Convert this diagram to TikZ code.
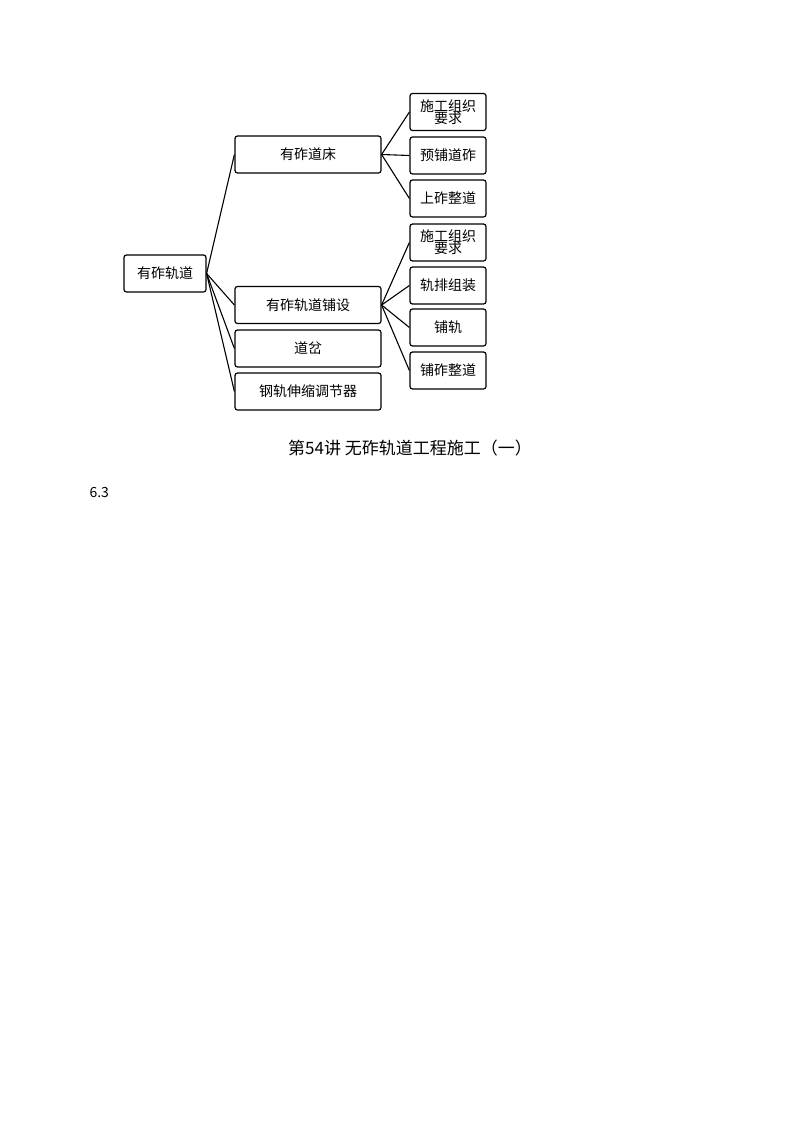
\documentclass[tikz,border=0pt]{standalone}
\usepackage{fontspec}
\setmainfont{Noto Sans CJK SC}
\newfontfamily\capfont{Noto Sans CJK SC}
\begin{document}
\begin{tikzpicture}[x=1pt,y=-1pt,
  box/.style={draw,line width=1.2pt,rounded corners=2.5pt,minimum height=37pt,inner sep=0pt,font=\fontsize{14}{15}\selectfont,align=center},
  lone/.style={box,minimum width=146pt},
  ltwo/.style={box,minimum width=76pt},
  conn/.style={line width=1.1pt}]
\useasboundingbox (0,0) rectangle (800,1132);
\node[box,minimum width=82pt] (r) at (165,273.5) {有砟轨道};
\node[lone] (a) at (308,154.5) {有砟道床};
\node[lone] (b) at (308,305) {有砟轨道铺设};
\node[lone] (c) at (308,348.5) {道岔};
\node[lone] (d) at (308,391.5) {钢轨伸缩调节器};
\node[ltwo] (a1) at (448,112) {施工组织\\[-3pt]要求};
\node[ltwo] (a2) at (448,155.5) {预铺道砟};
\node[ltwo] (a3) at (448,198.5) {上砟整道};
\node[ltwo] (b1) at (448,242.5) {施工组织\\[-3pt]要求};
\node[ltwo] (b2) at (448,285.5) {轨排组装};
\node[ltwo] (b3) at (448,327.5) {铺轨};
\node[ltwo] (b4) at (448,370.5) {铺砟整道};
\foreach \t in {a,b,c,d} \draw[conn] (r.east) -- (\t.west);
\foreach \t in {a1,a2,a3} \draw[conn] (a.east) -- (\t.west);
\foreach \t in {b1,b2,b3,b4} \draw[conn] (b.east) -- (\t.west);
\node[font=\capfont\fontsize{17}{18}\selectfont] (cap) at (410,448) {第54讲 无砟轨道工程施工（一）};
\node[font=\capfont\fontsize{14}{15}\selectfont,anchor=west] (n) at (86,493) {6.3};
\end{tikzpicture}
\end{document}
